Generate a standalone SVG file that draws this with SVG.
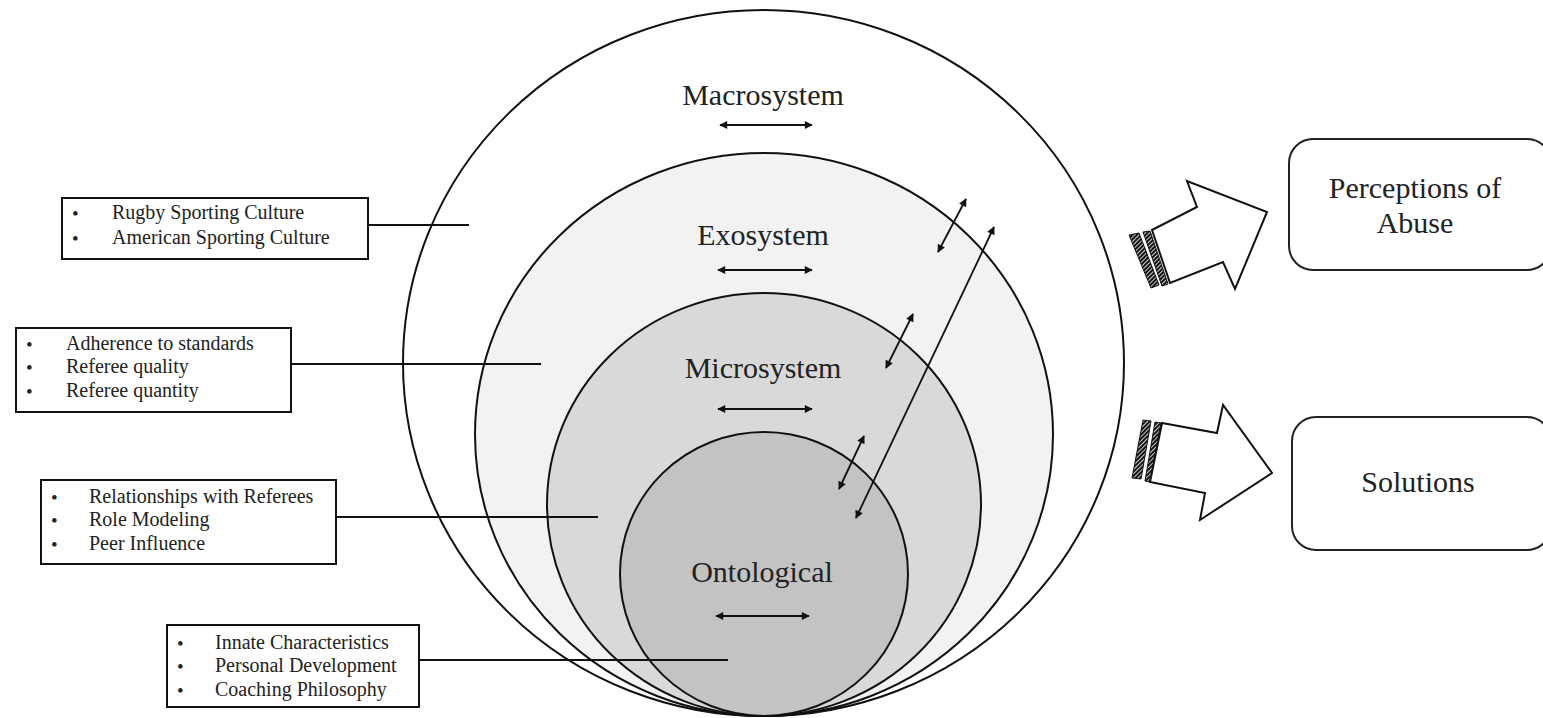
<svg xmlns="http://www.w3.org/2000/svg" width="1543" height="718" viewBox="0 0 1543 718">
<style>
.ring{stroke:#111;stroke-width:2}
.box{fill:#fff;stroke:#111;stroke-width:2}
.rbox{fill:#fff;stroke:#222;stroke-width:2}
.lead{stroke:#111;stroke-width:1.8;fill:none}
.arr{stroke:#111;stroke-width:1.8;fill:none;marker-start:url(#ah);marker-end:url(#ah)}
.lt{font-family:"Liberation Serif","Times New Roman",serif;font-size:20px;fill:#222}
.bl{font-family:"Liberation Serif","Times New Roman",serif;font-size:19px;fill:#222}
.big{font-family:"Liberation Serif","Times New Roman",serif;font-size:30px;fill:#222;text-anchor:middle}
.blk{fill:#fff;stroke:#111;stroke-width:2;stroke-linejoin:miter}
.stripe{fill:url(#hatch);stroke:#111;stroke-width:1}
</style>
<defs>
<marker id="ah" viewBox="0 0 10 10" refX="9" refY="5" markerWidth="10" markerHeight="8" markerUnits="userSpaceOnUse" orient="auto-start-reverse">
<path d="M0,0 L10,5 L0,10 z" fill="#111"/>
</marker>
<pattern id="hatch" width="3" height="3" patternUnits="userSpaceOnUse" patternTransform="rotate(45)">
<rect width="3" height="3" fill="#fff"/>
<rect width="2.2" height="3" fill="#111"/>
</pattern>
</defs>
<rect width="1543" height="718" fill="#fff"/>

<g id="macrosystem">
<ellipse class="ring" cx="763.5" cy="363" rx="360.5" ry="353" fill="#fff"/>
<text class="big" x="763" y="105">Macrosystem</text>
</g>
<g id="exosystem">
<ellipse class="ring" cx="764" cy="434.5" rx="289" ry="281.5" fill="#f2f2f2"/>
<text class="big" x="763" y="245">Exosystem</text>
</g>
<g id="microsystem">
<ellipse class="ring" cx="764" cy="504.5" rx="217" ry="211.5" fill="#d9d9d9"/>
<text class="big" x="763" y="378">Microsystem</text>
</g>
<g id="ontological">
<ellipse class="ring" cx="764" cy="574" rx="144" ry="142" fill="#c3c3c3"/>
<text class="big" x="762" y="582">Ontological</text>
</g>

<g id="box-macro">
<rect class="box" x="62" y="198" width="306" height="61"/>
<text class="bl" x="72" y="220">•</text><text class="lt" x="112" y="219">Rugby Sporting Culture</text>
<text class="bl" x="72" y="245">•</text><text class="lt" x="112" y="244">American Sporting Culture</text>
</g>
<g id="box-exo">
<rect class="box" x="16" y="328" width="275" height="84"/>
<text class="bl" x="26" y="351">•</text><text class="lt" x="66" y="350">Adherence to standards</text>
<text class="bl" x="26" y="374">•</text><text class="lt" x="66" y="373">Referee quality</text>
<text class="bl" x="26" y="398">•</text><text class="lt" x="66" y="397">Referee quantity</text>
</g>
<g id="box-micro">
<rect class="box" x="41" y="480" width="295" height="84"/>
<text class="bl" x="51" y="504">•</text><text class="lt" x="89" y="503">Relationships with Referees</text>
<text class="bl" x="51" y="527">•</text><text class="lt" x="89" y="526">Role Modeling</text>
<text class="bl" x="51" y="551">•</text><text class="lt" x="89" y="550">Peer Influence</text>
</g>
<g id="box-onto">
<rect class="box" x="167" y="625" width="252" height="82"/>
<text class="bl" x="177" y="650">•</text><text class="lt" x="215" y="649">Innate Characteristics</text>
<text class="bl" x="177" y="673">•</text><text class="lt" x="215" y="672">Personal Development</text>
<text class="bl" x="177" y="697">•</text><text class="lt" x="215" y="696">Coaching Philosophy</text>
</g>

<g id="perceptions">
<rect class="rbox" x="1289" y="139" width="262" height="131" rx="24"/>
<text class="big" x="1415" y="198">Perceptions of</text>
<text class="big" x="1415" y="233">Abuse</text>
</g>
<g id="solutions">
<rect class="rbox" x="1292" y="417" width="259" height="133" rx="24"/>
<text class="big" x="1418" y="492">Solutions</text>
</g>

<g id="block-arrow-1">
<polygon class="stripe" points="1129,235 1139,233 1159,285 1151,288"/>
<polygon class="stripe" points="1143,232 1150,231 1168,284 1162,286"/>
<polygon class="blk" points="1152,230 1197,207 1187,181 1267,212 1235,289 1223,262 1170,283"/>
</g>
<g id="block-arrow-2">
<polygon class="stripe" points="1143,420 1151,421 1141,479 1132,478"/>
<polygon class="stripe" points="1155,422 1161,423 1150,482 1145,481"/>
<polygon class="blk" points="1162,423 1217,433 1223,405 1272,473 1200,520 1205,493 1150,482"/>
</g>

<g id="connectors">
<line class="lead" x1="368" y1="225" x2="469" y2="225"/>
<line class="lead" x1="291" y1="364" x2="541" y2="364"/>
<line class="lead" x1="336" y1="517" x2="598" y2="517"/>
<line class="lead" x1="419" y1="660" x2="728" y2="660"/>
<line class="arr" x1="720" y1="125" x2="812" y2="125"/>
<line class="arr" x1="718" y1="270" x2="812" y2="270"/>
<line class="arr" x1="718" y1="409" x2="812" y2="409"/>
<line class="arr" x1="716" y1="616" x2="809" y2="616"/>
<line class="arr" x1="938" y1="252" x2="966" y2="199"/>
<line class="arr" x1="856" y1="518" x2="994" y2="227"/>
<line class="arr" x1="886" y1="368" x2="913" y2="314"/>
<line class="arr" x1="839" y1="489" x2="864" y2="436"/>
</g>
</svg>
